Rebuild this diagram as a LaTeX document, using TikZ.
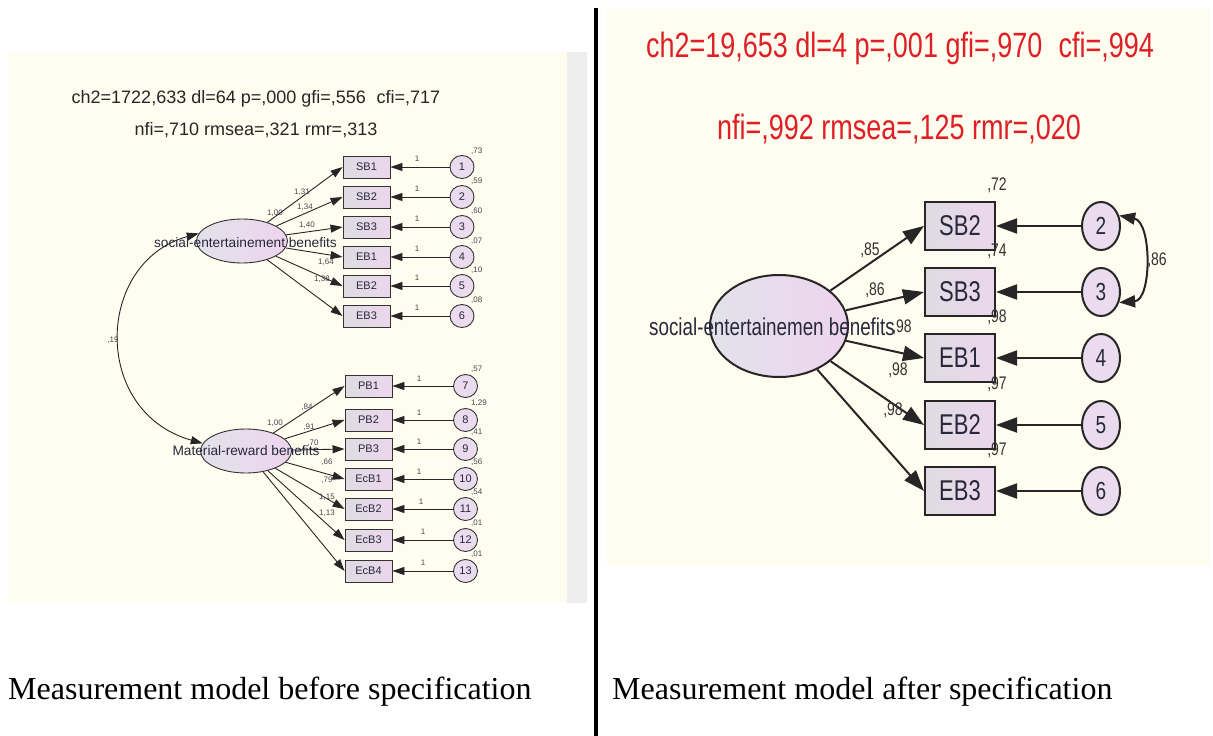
\documentclass[tikz,border=0pt]{standalone}
\usepackage{fontspec}
\usepackage{graphicx}
\setmainfont{Liberation Serif}
\newfontfamily\amos{Liberation Sans}
\usetikzlibrary{arrows.meta,shapes.geometric}
\definecolor{cream}{RGB}{254,253,240}
\definecolor{stripgrey}{RGB}{238,238,238}
\definecolor{boxL}{RGB}{222,220,226}
\definecolor{boxR}{RGB}{236,214,236}
\definecolor{ellL}{RGB}{226,226,234}
\definecolor{ellR}{RGB}{238,212,238}
\definecolor{circfill}{RGB}{234,220,238}
\definecolor{hdrred}{RGB}{222,32,38}
\definecolor{txtdark}{RGB}{40,40,60}
\definecolor{numgrey}{RGB}{70,70,80}
\newcommand\rs[1]{\scalebox{1}[1.3]{#1}}
\newcommand\fs[1]{\fontsize{#1}{#1}\selectfont}
% left row: box name, box x, y, circle number, circle x, variance, variance dy, one-label x, one-label dy
\newcommand\lrow[9]{%
  \node[lbox] (#1) at (#2,#3) {#1};
  \node[lcirc] (c#4) at (#5,#3) {#4};
  \node[lnum, anchor=west] (v#4) at (471,#3-#7) {#6};
  \draw[larr] (c#4) -- (#1);
  \node[lnum] (one#4) at (#8,#3-#9) {1};
}
% right row: box name, y, circle number, variance
\newcommand\rrow[4]{%
  \node[rbox] (#1) at (960,#2) {\rs{#1}};
  \node[rcirc] (c#3) at (1101,#2) {\rs{#3}};
  \node[rnum] (v#3) at (997,#2-41) {\rs{#4}};
  \draw[rarr] (c#3) -- (#1);
}
\begin{document}
\begin{tikzpicture}[x=1pt,y=-1pt,
  lbox/.style={draw=black!80, line width=0.9pt, left color=boxL, right color=boxR,
    minimum width=47pt, minimum height=22pt, inner sep=0pt, font=\amos\fs{11}, text=txtdark},
  lcirc/.style={ellipse, draw=black!80, line width=0.9pt, fill=circfill,
    minimum width=24pt, minimum height=23pt, inner sep=0pt, font=\amos\fs{11}, text=txtdark},
  lell/.style={ellipse, draw=black!80, line width=0.9pt, left color=ellL, right color=ellR,
    minimum width=91pt, minimum height=44pt, inner sep=0pt},
  ltxt/.style={font=\amos\fs{13.7}, text=txtdark, inner sep=0pt},
  lnum/.style={font=\amos\fs{8}, text=numgrey, inner sep=0pt},
  larr/.style={draw=black!85, line width=0.9pt, -{Triangle[length=12pt,width=8pt]}},
  larr2/.style={draw=black!85, line width=0.9pt, {Triangle[length=12pt,width=8pt]}-{Triangle[length=12pt,width=8pt]}},
  rbox/.style={draw=black!85, line width=2pt, left color=boxL, right color=boxR,
    minimum width=70pt, minimum height=48pt, inner sep=0pt, font=\amos\fs{22}, text=txtdark},
  rcirc/.style={ellipse, draw=black!85, line width=2pt, fill=circfill,
    minimum width=38pt, minimum height=48pt, inner sep=0pt, font=\amos\fs{19}, text=txtdark},
  rell/.style={ellipse, draw=black!85, line width=2pt, left color=ellL, right color=ellR,
    minimum width=138pt, minimum height=102pt, inner sep=0pt},
  rtxt/.style={font=\amos\fs{18.8}, text=txtdark, inner sep=0pt},
  rnum/.style={font=\amos\fs{14}, text=black!80, inner sep=0pt},
  rarr/.style={draw=black!85, line width=2pt, -{Triangle[length=21pt,width=15pt]}},
  rarr2/.style={draw=black!85, line width=2pt, {Triangle[length=16pt,width=12pt]}-{Triangle[length=16pt,width=12pt]}},
  hdr/.style={font=\amos\fs{18}, text=black!85, inner sep=0pt},
  rhdr/.style={font=\amos\fs{27}, text=hdrred, inner sep=0pt},
  captext/.style={font=\fs{32}, text=black, inner sep=0pt, anchor=west}
]
\useasboundingbox (0,0) rectangle (1213,736);
\fill[white] (0,0) rectangle (1213,736);
% panels
\fill[cream] (8,52) rectangle (567,603);
\fill[stripgrey] (567,52) rectangle (587,603);
\fill[cream] (607,8) rectangle (1210,565);
\fill[black] (594,8) rectangle (598,736);

% ===== left panel =====
\node[hdr] (hL1) at (256,99) {ch2=1722,633 dl=64 p=,000 gfi=,556\hspace{0.6em}cfi=,717};
\node[hdr] (hL2) at (256,130) {nfi=,710 rmsea=,321 rmr=,313};

\node[lell] (e1) at (242,241) {};
\node[lell] (e2) at (246,451) {};

\lrow{SB1}{366.5}{167}{1}{462}{,73}{16}{417}{8}
\lrow{SB2}{366.5}{197}{2}{462}{,59}{16}{417}{8}
\lrow{SB3}{366.5}{227}{3}{462}{,60}{16}{417}{8}
\lrow{EB1}{366.5}{257}{4}{462}{,07}{16}{417}{8}
\lrow{EB2}{366.5}{286}{5}{462}{,10}{16}{417}{8}
\lrow{EB3}{366.5}{316}{6}{462}{,08}{16}{417}{8}
\lrow{PB1}{368.5}{386}{7}{465.5}{,57}{17}{419}{7}
\lrow{PB2}{368.5}{420}{8}{465.5}{1,29}{17}{419}{7}
\lrow{PB3}{368.5}{449}{9}{465.5}{,41}{17}{419}{7}
\lrow{EcB1}{368.5}{479}{10}{465.5}{,56}{17}{419}{7}
\lrow{EcB2}{368.5}{509}{11}{465.5}{,54}{17}{421}{7}
\lrow{EcB3}{368.5}{540}{12}{465.5}{,01}{17}{423}{8}
\lrow{EcB4}{368.5}{571}{13}{465.5}{,01}{17}{423}{8}

\foreach \b in {SB1,SB2,SB3,EB1,EB2,EB3} \draw[larr] (e1) -- (\b.west);
\foreach \b in {PB1,PB2,PB3,EcB1,EcB2,EcB3,EcB4} \draw[larr] (e2) -- (\b.west);

\draw[larr2] (e1.170) .. controls (95,262) and (91,412) .. (e2.170);
\node[lnum] (cov1) at (113,340) {,19};

\node[lnum] (ve1) at (275,213) {1,00};
\node[lnum] (ve2) at (275,423) {1,00};
\node[lnum] (l1) at (302,192) {1,31};
\node[lnum] (l2) at (305,207) {1,34};
\node[lnum] (l3) at (307,225) {1,40};
\node[lnum] (l4) at (326,262) {1,64};
\node[lnum] (l5) at (322,279) {1,38};
\node[lnum] (m1) at (307,407) {,84};
\node[lnum] (m2) at (309,427) {,91};
\node[lnum] (m3) at (313,443) {,70};
\node[lnum] (m4) at (327,462) {,66};
\node[lnum] (m5) at (327,480) {,79};
\node[lnum] (m6) at (327,497) {1,15};
\node[lnum] (m7) at (327,513) {1,13};

\node[ltxt] (e1lab) at (245.5,243) {social-entertainement benefits};
\node[ltxt] (e2lab) at (246,451) {Material-reward benefits};

% ===== right panel =====
\node[rhdr] (hR1) at (900,48) {\rs{ch2=19,653 dl=4 p=,001 gfi=,970\hspace{0.6em}cfi=,994}};
\node[rhdr] (hR2) at (899,129) {\rs{nfi=,992 rmsea=,125 rmr=,020}};

\node[rell] (eR) at (779,326) {};
\rrow{SB2}{226}{2}{,72}
\rrow{SB3}{292}{3}{,74}
\rrow{EB1}{358}{4}{,98}
\rrow{EB2}{425}{5}{,97}
\rrow{EB3}{491}{6}{,97}
\foreach \b in {SB2,SB3,EB1,EB2,EB3} \draw[rarr] (eR) -- (\b.west);

\draw[rarr2] (c2.30) .. controls (1152,222) and (1152,300) .. (c3.-30);
\node[rnum] (covR) at (1157,260) {\rs{,86}};

\node[rnum] (r1) at (870,250) {\rs{,85}};
\node[rnum] (r2) at (875,290) {\rs{,86}};
\node[rnum] (r3) at (902,327) {\rs{,98}};
\node[rnum] (r4) at (898,370) {\rs{,98}};
\node[rnum] (r5) at (893,410) {\rs{,98}};
\node[rtxt] (eRlab) at (772,327) {\rs{social-entertainemen benefits}};

% captions
\node[captext] (capL) at (8,692) {Measurement model before specification};
\node[captext] (capR) at (612,692) {Measurement model after specification};
\end{tikzpicture}
\end{document}
